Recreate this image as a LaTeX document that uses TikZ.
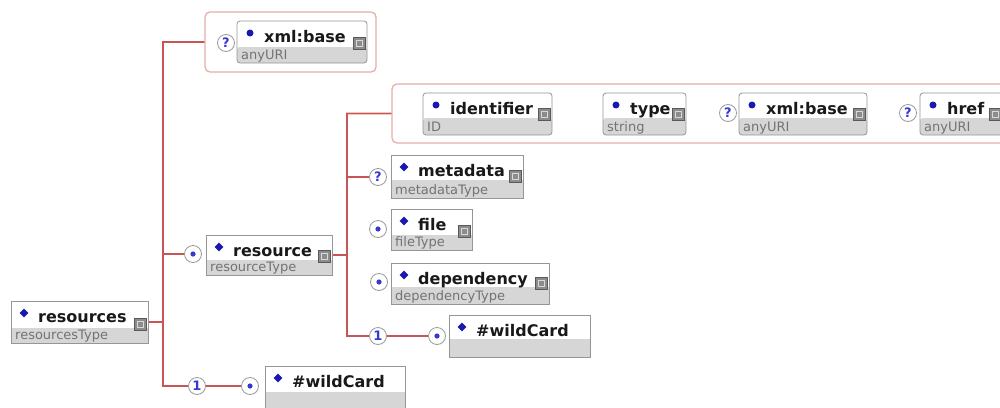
\documentclass[tikz,border=0pt]{standalone}
\usepackage{fontspec}
\setmainfont{DejaVu Sans}
\usetikzlibrary{calc,shapes.geometric,backgrounds}
\definecolor{conn}{RGB}{200,85,85}
\definecolor{halo}{RGB}{242,200,190}
\definecolor{grpc}{RGB}{230,175,170}
\definecolor{bandc}{RGB}{214,214,214}
\definecolor{bord}{RGB}{150,150,150}
\definecolor{mblue}{RGB}{25,25,175}
\definecolor{qblue}{RGB}{55,55,210}
\definecolor{tgray}{RGB}{115,115,115}
\tikzset{
  connline/.style={draw=conn, line width=1.3pt, preaction={draw=halo, line width=2.8pt}},
  grp/.style={draw=grpc, line width=1.3pt, rounded corners=5pt, fill=white, anchor=north west, inner sep=0pt, outer sep=0pt},
  ebox/.style={draw=bord, line width=0.8pt, fill=white, anchor=north west, inner sep=0pt, outer sep=0pt},
  abox/.style={ebox, rounded corners=3pt},
  mk-ebox/.style={diamond, fill=mblue, minimum size=9pt, inner sep=0pt},
  mk-abox/.style={circle, fill=mblue, minimum size=7pt, inner sep=0pt},
  lbl/.style={font=\fontsize{16}{18}\selectfont\bfseries, text=black!90, inner sep=0pt, anchor=base west},
  typ/.style={font=\fontsize{13}{15}\selectfont, text=tgray, inner sep=0pt, anchor=base west},
  icn/.style={draw=black!65, fill=black!45, minimum size=12pt, inner sep=0pt,
    path picture={\draw[black!15, line width=0.7pt] ([shift={(-3pt,-3pt)}]path picture bounding box.center) rectangle ([shift={(3pt,3pt)}]path picture bounding box.center);}},
  mult/.style={circle, draw=black!40, fill=white, line width=0.8pt, minimum size=17pt, inner sep=0pt, text=qblue, font=\fontsize{13}{13}\selectfont\bfseries},
  star/.style={mult, path picture={\fill[qblue] (path picture bounding box.center) circle (2.6pt);}},
}
% name, x1, y1, x2, y2, band height, box style, label, type
\newcommand\xbox[9]{%
  \pgfmathsetmacro\bw{#4-#2}\pgfmathsetmacro\bh{#5-#3}\pgfmathsetmacro\bb{#6}%
  \node[#7, minimum width=\bw pt, minimum height=\bh pt,
    path picture={\fill[bandc] (path picture bounding box.south west) rectangle ([yshift=\bb pt]path picture bounding box.south east);}] (#1) at (#2,#3) {};
  \node[mk-#7] (#1-m) at ($(#1.north west)+(13,12)$) {};
  \node[lbl] (#1-l) at ($(#1.north west)+(27,21)$) {#8};
  \node[typ] (#1-t) at ($(#1.south west)+(4,-3.5)$) {#9};
  \node[icn] (#1-i) at ($(#1.south east)+(-7.5,-\bb-4)$) {};
}
% name, x1, y1, x2, y2, band height
\newcommand\wbox[6]{%
  \pgfmathsetmacro\bw{#4-#2}\pgfmathsetmacro\bh{#5-#3}\pgfmathsetmacro\bb{#6}%
  \node[ebox, minimum width=\bw pt, minimum height=\bh pt,
    path picture={\fill[bandc] (path picture bounding box.south west) rectangle ([yshift=\bb pt]path picture bounding box.south east);}] (#1) at (#2,#3) {};
  \node[mk-ebox] (#1-m) at ($(#1.north west)+(13,12)$) {};
  \node[lbl] (#1-l) at ($(#1.north west)+(27,21)$) {\#wildCard};
}
\begin{document}
\begin{tikzpicture}[x=1pt,y=-1pt]
\path[use as bounding box] (0,0) rectangle (1000,407);
\begin{pgfonlayer}{background}
\fill[white] (0,0) rectangle (1000,407);
\end{pgfonlayer}
\clip (0,0) rectangle (1000,407);

% groups
\node[grp, minimum width=171pt, minimum height=60pt] (xgrp) at (205,12) {};
\node[grp, minimum width=625pt, minimum height=59pt] (agrp) at (392,84) {};

% boxes
\xbox{resources}{11}{301}{148}{343}{15}{ebox}{resources}{resourcesType}
\xbox{xbase}{237}{21}{367}{63}{16}{abox}{xml:base}{anyURI}
\xbox{resource}{206}{235}{332}{275}{15}{ebox}{resource}{resourceType}
\xbox{ident}{423}{93}{552}{135}{17}{abox}{identifier}{ID}
\xbox{type}{603}{93}{686}{135}{17}{abox}{type}{string}
\xbox{xbase2}{739}{93}{867}{135}{17}{abox}{xml:base}{anyURI}
\xbox{href}{920}{93}{1003}{135}{17}{abox}{href}{anyURI}
\xbox{metadata}{391}{155}{523}{198}{18}{ebox}{metadata}{metadataType}
\xbox{file}{391}{209}{472}{250}{15}{ebox}{file}{fileType}
\xbox{dependency}{391}{263}{549}{304}{17}{ebox}{dependency}{dependencyType}
\wbox{wild1}{449}{315}{590}{357}{18}
\wbox{wild2}{265}{366}{405}{409}{17}

% multiplicity circles
\node[mult] (qx) at (226,43) {?};
\node[star] (sres) at (193,254) {};
\node[mult] (qmeta) at (378,177) {?};
\node[star] (sfile) at (378,229) {};
\node[star] (sdep) at (379,282) {};
\node[mult] (one1) at (378,336) {1};
\node[star] (sw1) at (437,336) {};
\node[mult] (qx2) at (728,113) {?};
\node[mult] (qh) at (908,113) {?};
\node[mult] (one2) at (197,386) {1};
\node[star] (sw2) at (250,386) {};

\coordinate (trunk) at (163,386);
\coordinate (strunk) at (347,336);

\begin{pgfonlayer}{background}
\draw[connline] (xgrp.west) -| (trunk) -- (one2);
\draw[connline] (resources.east) -- (resources.east -| trunk);
\draw[connline] (sres) -- (sres -| trunk);
\draw[connline] (one2) -- (sw2);
\draw[connline] (resource.east) -- (resource.east -| strunk);
\draw[connline] (agrp.west) -| (strunk) -- (one1);
\draw[connline] (qmeta) -- (qmeta -| strunk);
\draw[connline] (one1) -- (sw1);
\end{pgfonlayer}
\end{tikzpicture}
\end{document}
